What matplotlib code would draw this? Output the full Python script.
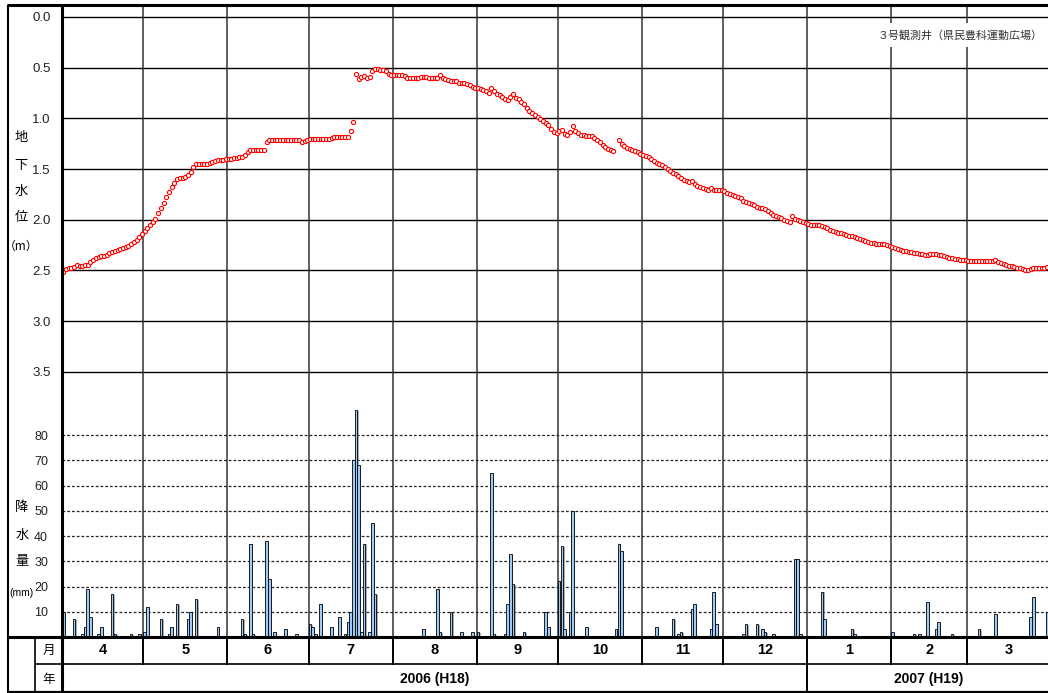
import numpy as np
import matplotlib
matplotlib.use('Agg')
import matplotlib.pyplot as plt
from matplotlib import patheffects as pe

plt.rcParams['font.family'] = ['Liberation Sans', 'Noto Sans CJK JP', 'DejaVu Sans']

# ---------------- data ----------------
months = ['4', '5', '6', '7', '8', '9', '10', '11', '12', '1', '2', '3']
month_days = [30, 31, 30, 31, 31, 30, 31, 30, 31, 31, 28, 31]
years = ['2006 (H18)', '2007 (H19)']
year_month_counts = [9, 3]
gw_ticks = [0.0, 0.5, 1.0, 1.5, 2.0, 2.5, 3.0, 3.5]
rain_ticks = [10, 20, 30, 40, 50, 60, 70, 80]
station = '３号観測井（県民豊科運動広場）'

# daily groundwater level (m below surface), 2006-04-01 .. 2007-03-31
gw_level = [
    2.51, 2.49, 2.48, 2.48, 2.47, 2.45, 2.46, 2.46, 2.45, 2.45,
    2.42, 2.40, 2.38, 2.37, 2.36, 2.36, 2.35, 2.33, 2.32, 2.31,
    2.30, 2.29, 2.28, 2.27, 2.26, 2.24, 2.22, 2.20, 2.17, 2.14,
    2.11, 2.08, 2.05, 2.02, 1.99, 1.93, 1.88, 1.83, 1.78, 1.73,
    1.68, 1.64, 1.60, 1.59, 1.59, 1.58, 1.56, 1.53, 1.48, 1.45,
    1.45, 1.45, 1.45, 1.45, 1.44, 1.43, 1.42, 1.41, 1.41, 1.41,
    1.40, 1.40, 1.40, 1.39, 1.39, 1.38, 1.38, 1.36, 1.33, 1.31,
    1.31, 1.31, 1.31, 1.31, 1.31, 1.23, 1.21, 1.21, 1.21, 1.21,
    1.21, 1.21, 1.21, 1.21, 1.21, 1.21, 1.21, 1.21, 1.23, 1.22,
    1.21, 1.20, 1.20, 1.20, 1.20, 1.20, 1.20, 1.20, 1.20, 1.19,
    1.18, 1.18, 1.18, 1.18, 1.18, 1.18, 1.12, 1.04, 0.56, 0.61,
    0.59, 0.58, 0.60, 0.59, 0.53, 0.51, 0.51, 0.52, 0.52, 0.53,
    0.56, 0.57, 0.57, 0.57, 0.57, 0.57, 0.58, 0.60, 0.60, 0.60,
    0.60, 0.60, 0.59, 0.59, 0.59, 0.60, 0.60, 0.60, 0.60, 0.57,
    0.60, 0.61, 0.62, 0.63, 0.63, 0.63, 0.65, 0.65, 0.65, 0.66,
    0.67, 0.69, 0.70, 0.70, 0.71, 0.72, 0.73, 0.75, 0.70, 0.73,
    0.76, 0.77, 0.79, 0.81, 0.82, 0.79, 0.76, 0.80, 0.81, 0.84,
    0.86, 0.90, 0.93, 0.95, 0.97, 0.99, 1.01, 1.03, 1.05, 1.07,
    1.10, 1.13, 1.14, 1.12, 1.11, 1.15, 1.16, 1.13, 1.08, 1.12,
    1.14, 1.16, 1.16, 1.17, 1.17, 1.17, 1.19, 1.21, 1.23, 1.26,
    1.28, 1.30, 1.31, 1.32, np.nan, 1.21, 1.25, 1.27, 1.29, 1.30,
    1.31, 1.32, 1.33, 1.35, 1.36, 1.37, 1.38, 1.40, 1.42, 1.44,
    1.45, 1.46, 1.48, 1.50, 1.52, 1.54, 1.55, 1.57, 1.59, 1.61,
    1.62, 1.63, 1.62, 1.65, 1.67, 1.68, 1.69, 1.70, 1.71, 1.69,
    1.71, 1.71, 1.71, 1.71, 1.72, 1.74, 1.75, 1.76, 1.77, 1.78,
    1.79, 1.81, 1.82, 1.83, 1.84, 1.85, 1.87, 1.88, 1.88, 1.89,
    1.91, 1.93, 1.95, 1.96, 1.97, 1.98, 2.00, 2.01, 2.02, 1.96,
    1.99, 2.00, 2.01, 2.02, 2.03, 2.04, 2.05, 2.05, 2.05, 2.05,
    2.06, 2.07, 2.08, 2.10, 2.11, 2.12, 2.13, 2.13, 2.14, 2.15,
    2.16, 2.16, 2.17, 2.18, 2.19, 2.20, 2.21, 2.22, 2.23, 2.23,
    2.24, 2.24, 2.24, 2.24, 2.25, 2.26, 2.27, 2.28, 2.29, 2.30,
    2.31, 2.31, 2.32, 2.32, 2.33, 2.33, 2.34, 2.34, 2.35, 2.35,
    2.34, 2.34, 2.34, 2.35, 2.35, 2.36, 2.37, 2.38, 2.38, 2.39,
    2.39, 2.40, 2.40, 2.40, 2.41, 2.41, 2.41, 2.41, 2.41, 2.41,
    2.41, 2.41, 2.41, 2.41, 2.40, 2.42, 2.43, 2.44, 2.45, 2.46,
    2.46, 2.47, 2.48, 2.48, 2.49, 2.50, 2.50, 2.49, 2.48, 2.48,
    2.48, 2.48, 2.48, 2.47, 2.47,
]

# daily precipitation (day index from 2006-04-01, mm)
rain_days = [0, 4, 7, 8, 9, 10, 13, 14, 18, 19, 25, 28, 30, 31, 36, 39, 40, 42, 46, 47, 49, 57,
             66, 67, 69, 70, 75, 76, 78, 82, 86, 91, 92, 93, 95, 99, 102, 104, 105, 106, 107,
             108, 109, 110, 111, 113, 114, 115,
             133, 138, 139, 143, 147, 151, 153, 158, 159, 163, 164, 165, 166, 170, 178, 179,
             183, 184, 185, 187, 188, 193, 204, 205, 206, 219, 225, 227, 228, 232, 233, 239,
             240, 241,
             251, 252, 256, 258, 259, 262, 270, 271, 272, 280, 281, 291, 292, 306, 314, 316,
             319, 322, 323, 328, 338, 344, 357, 358, 363]
rain_mm = [10, 7, 1, 4, 19, 8, 1, 4, 17, 1, 1, 1, 2, 12, 7, 1, 4, 13, 7, 10, 15, 4,
           7, 1, 37, 1, 38, 23, 2, 3, 1, 5, 4, 1, 13, 4, 8, 1, 6, 10, 70,
           90, 68, 2, 37, 2, 45, 17,
           3, 19, 2, 10, 2, 2, 2, 65, 1, 1, 13, 33, 21, 2, 10, 4,
           22, 36, 3, 10, 50, 4, 3, 37, 34, 4, 7, 1, 2, 11, 13, 3,
           18, 5,
           1, 5, 5, 3, 2, 1, 31, 31, 1, 18, 7, 3, 1, 2, 1, 1,
           14, 3, 6, 1, 3, 9, 8, 16, 10]

# ---------------- figure ----------------
W, H = 1048, 693
fig = plt.figure(figsize=(W / 100, H / 100), dpi=100)

def fx(px):
    return px / W

def fy(py):
    return 1 - py / H

X0, X1 = 62, 1051
Y_TOP, Y_BASE = 5, 637
n_days = sum(month_days)

ax = fig.add_axes([fx(X0), fy(Y_BASE), (X1 - X0) / W, (Y_BASE - Y_TOP) / H])
ax.set_xlim(0, n_days)
ax.set_ylim(6.114, -0.118)
for s in ax.spines.values():
    s.set_visible(False)
ax.set_xticks([])
ax.set_yticks(gw_ticks)
ax.set_yticklabels([f'{v:.1f}' for v in gw_ticks], fontsize=9.5, color='#222222')
ax.tick_params(axis='y', length=0, pad=8)
for v in gw_ticks:
    ax.axhline(v, color='black', lw=1.0, zorder=1)

bounds = np.cumsum([0] + month_days)
for b in bounds[1:-1]:
    ax.axvline(b, color='#333333', lw=1.1, zorder=1)

days = np.arange(n_days) + 0.5
ax.plot(days, gw_level, ls='none', marker='o', ms=3.0, mfc='white', mec='#ff0000',
        mew=0.8, zorder=3, clip_on=True)

axr = ax.twinx()
axr.set_ylim(0, 250.3)
for s in axr.spines.values():
    s.set_visible(False)
axr.yaxis.set_ticks_position('left')
axr.set_yticks(rain_ticks)
axr.set_yticklabels([str(v) for v in rain_ticks], fontsize=9,
                    family=['Liberation Sans Narrow', 'Liberation Sans'], color='#222222')
axr.tick_params(axis='y', length=0, pad=10)
for v in rain_ticks:
    axr.axhline(v, color='#222222', lw=0.9, ls=(0, (2.2, 1.6)), zorder=1)

rain_x = np.array(rain_days) + 0.5
bars = axr.bar(rain_x, rain_mm, width=0.95, color='#9ECBF5', edgecolor='black', lw=0.6, zorder=4)
for b in bars:
    b.set_path_effects([pe.SimplePatchShadow(offset=(1.0, -0.6), shadow_rgbFace='#777777', alpha=0.6),
                        pe.Normal()])

# ---------------- table (month / year rows) ----------------
axt = fig.add_axes([fx(X0), fy(692), (X1 - X0) / W, (692 - Y_BASE) / H])
axt.set_xlim(0, n_days)
axt.set_ylim(692, Y_BASE)
axt.axis('off')
for b in bounds[1:-1]:
    axt.plot([b, b], [Y_BASE, 664], color='black', lw=1.4)
for m, a, b in zip(months, bounds[:-1], bounds[1:]):
    axt.text((a + b) / 2, 650.5, m, ha='center', va='center', fontsize=10.5, fontweight='bold',
             family=['Liberation Sans Narrow', 'Liberation Sans'])
ybounds = np.cumsum([0] + [sum(month_days[:year_month_counts[0]]), sum(month_days[year_month_counts[0]:])])
axt.plot([ybounds[1], ybounds[1]], [664, 692], color='black', lw=1.4)
for y, a, b in zip(years, ybounds[:-1], ybounds[1:]):
    axt.text((a + b) / 2, 679, y, ha='center', va='center', fontsize=10, fontweight='bold',
             family=['Liberation Sans Narrow', 'Liberation Sans'])

# ---------------- overlay: frame & labels ----------------
axo = fig.add_axes([0, 0, 1, 1], zorder=10)
axo.set_xlim(0, W)
axo.set_ylim(H, 0)
axo.axis('off')
axo.patch.set_alpha(0)

lk = dict(color='black', solid_capstyle='butt')
axo.plot([7, W], [5, 5], lw=2.2, **lk)
axo.plot([7.5, 7.5], [5, 692], lw=1.5, **lk)
axo.plot([62, 62], [5, 692], lw=2.2, **lk)
axo.plot([35, 35], [Y_BASE, 692], lw=1.2, **lk)
axo.plot([7, W], [Y_BASE, Y_BASE], lw=2.2, **lk)
axo.plot([35, W], [664, 664], lw=1.2, **lk)
axo.plot([7, W], [691.5, 691.5], lw=1.6, **lk)

jp = ['Noto Sans CJK JP', 'DejaVu Sans']
axo.text(48.5, 650.5, '月', ha='center', va='center', fontsize=9, family=jp)
axo.text(48.5, 679, '年', ha='center', va='center', fontsize=9, family=jp)

for ch, yy in zip(['地', '下', '水', '位'], [137, 165, 192, 218]):
    axo.text(21, yy, ch, ha='center', va='center', fontsize=9.5, family=jp)
axo.text(21, 246, '（m）', ha='center', va='center', fontsize=8.5, family=jp)
for ch, yy in zip(['降', '水', '量'], [507, 535, 562]):
    axo.text(22, yy, ch, ha='center', va='center', fontsize=9.5, family=jp)
axo.text(21, 593, '(mm)', ha='center', va='center', fontsize=7.5,
         family=['Liberation Sans Narrow', 'Liberation Sans'])

axo.text(1043, 35, station, ha='right', va='center', fontsize=7.9, color='#333333', family=jp,
         bbox=dict(facecolor='white', edgecolor='none', pad=5))

fig.savefig('out.png', dpi=100)
